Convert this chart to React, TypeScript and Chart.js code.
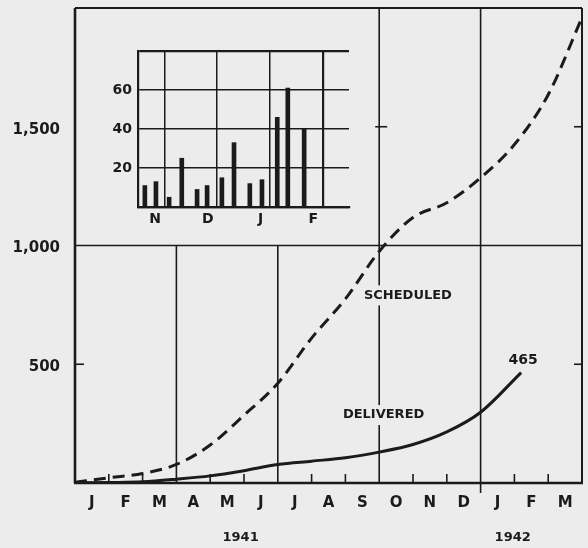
import React, { useEffect, useRef } from 'react';
import { Chart, registerables } from 'chart.js';

Chart.register(...registerables);

// ---------- data ----------
const monthLabels = ['J', 'F', 'M', 'A', 'M', 'J', 'J', 'A', 'S', 'O', 'N', 'D', 'J', 'F', 'M'];
const yearLabels = ['1941', '1942'];
const yearLabelMonth = [4.9, 12.95];
const yTickValues = [500, 1000, 1500];

// month position (0 = start of Jan 1941) and cumulative count
const scheduledMonth = [0, 1, 2, 3, 4, 5, 6, 7, 8, 9, 10, 11, 12, 13, 14, 15];
const scheduledValues = [3, 22, 40, 78, 160, 285, 420, 610, 775, 975, 1118, 1180, 1285, 1425, 1635, 1960];
const deliveredMonth = [0, 1, 2, 3, 4, 5, 6, 7, 8, 9, 10, 11, 12, 13.2];
const deliveredValues = [0, 2, 5, 16, 30, 52, 78, 92, 106, 130, 162, 215, 298, 465];

const seriesNames = ['SCHEDULED', 'DELIVERED'];

// inset: weekly deliveries, Nov 1941 - Feb 1942 (position in months from Nov 1)
const insetMonthLabels = ['N', 'D', 'J', 'F'];
const insetWeekPos = [0.13, 0.34, 0.59, 0.83, 1.12, 1.31, 1.59, 1.82, 2.12, 2.35, 2.64, 2.84, 3.15];
const insetWeekly = [11, 13, 5, 25, 9, 11, 15, 33, 12, 14, 46, 61, 40];
const insetYTicks = [0, 20, 40, 60, 80];

// ---------- style ----------
const BG = '#ececec';
const INK = '#1b1b1b';
const FONT = '"DejaVu Sans", Verdana, sans-serif';

function line(ctx: CanvasRenderingContext2D, x1: number, y1: number, x2: number, y2: number) {
  ctx.beginPath();
  ctx.moveTo(x1, y1);
  ctx.lineTo(x2, y2);
  ctx.stroke();
}

const noPad = (s: any) => {
  s.paddingTop = 0;
  s.paddingBottom = 0;
  s.paddingLeft = 0;
  s.paddingRight = 0;
};

const mainDecor = {
  id: 'mainDecor',
  beforeDatasetsDraw(chart: any) {
    const { ctx, chartArea: a } = chart;
    const xs = chart.scales.x;
    const ys = chart.scales.y;
    const px = (m: number) => xs.getPixelForValue(m);
    const py = (v: number) => ys.getPixelForValue(v);
    ctx.save();
    ctx.strokeStyle = INK;
    ctx.lineWidth = 1.6;
    // grid
    line(ctx, a.left, py(1000), a.right, py(1000));
    [3, 6].forEach((m) => line(ctx, px(m), py(1000), px(m), a.bottom));
    line(ctx, px(9), a.top, px(9), a.bottom);
    line(ctx, px(12), a.top, px(12), a.bottom + 10);
    // inner ticks on x axis
    for (let m = 1; m < 15; m++) {
      if ([3, 6, 9, 12].includes(m)) continue;
      line(ctx, px(m), a.bottom, px(m), a.bottom - 9);
    }
    // y ticks
    line(ctx, a.left, py(500), a.left + 9, py(500));
    line(ctx, a.right, py(500), a.right - 8, py(500));
    line(ctx, a.right, py(1500), a.right - 8, py(1500));
    line(ctx, px(9) - 4, py(1500), px(9) + 8, py(1500));

    // series labels with paper background (break the gridline)
    ctx.font = `bold 13px ${FONT}`;
    ctx.textAlign = 'center';
    ctx.textBaseline = 'middle';
    const labels = [
      { t: seriesNames[0], x: px(9.85), y: py(790) },
      { t: seriesNames[1], x: px(9.13), y: py(286) },
    ];
    labels.forEach((l) => {
      const w = ctx.measureText(l.t).width;
      ctx.fillStyle = BG;
      ctx.fillRect(l.x - w / 2 - 2, l.y - 10, w + 4, 20);
      ctx.fillStyle = INK;
      ctx.fillText(l.t, l.x, l.y);
    });

    // border
    ctx.lineWidth = 2;
    line(ctx, a.left, a.top, a.right, a.top);
    line(ctx, a.right, a.top, a.right, a.bottom);
    ctx.lineWidth = 2.6;
    line(ctx, a.left, a.top, a.left, a.bottom);
    line(ctx, a.left - 1, a.bottom, a.right + 1, a.bottom);
    ctx.restore();
  },
  afterDraw(chart: any) {
    const { ctx } = chart;
    const xs = chart.scales.x;
    const ys = chart.scales.y;
    ctx.save();
    ctx.fillStyle = INK;
    ctx.textAlign = 'center';
    ctx.textBaseline = 'middle';
    // end value label
    const li = deliveredValues.length - 1;
    ctx.font = `bold 14px ${FONT}`;
    ctx.fillText(
      String(deliveredValues[li]),
      xs.getPixelForValue(deliveredMonth[li]) + 2,
      ys.getPixelForValue(deliveredValues[li]) - 12
    );
    // years
    ctx.font = `bold 13px ${FONT}`;
    yearLabels.forEach((t, i) => {
      ctx.fillText(t, xs.getPixelForValue(yearLabelMonth[i]), 538);
    });
    ctx.restore();
  },
};

export default function App() {
  const mainRef = useRef<HTMLCanvasElement | null>(null);
  const insetRef = useRef<HTMLCanvasElement | null>(null);

  useEffect(() => {
    document.body.style.margin = '0';
    document.body.style.background = BG;
    if (!mainRef.current || !insetRef.current) return;

    const main = new Chart(mainRef.current, {
      type: 'line',
      data: {
        datasets: [
          {
            label: seriesNames[0],
            data: scheduledMonth.map((m, i) => ({ x: m, y: scheduledValues[i] })),
            borderColor: INK,
            borderWidth: 3,
            borderDash: [12, 7],
            pointRadius: 0,
            cubicInterpolationMode: 'monotone',
            fill: false,
          },
          {
            label: seriesNames[1],
            data: deliveredMonth.map((m, i) => ({ x: m, y: deliveredValues[i] })),
            borderColor: INK,
            borderWidth: 3,
            pointRadius: 0,
            cubicInterpolationMode: 'monotone',
            fill: false,
          },
        ],
      },
      options: {
        animation: false,
        responsive: false,
        maintainAspectRatio: false,
        devicePixelRatio: 1,
        layout: { padding: { left: 0, right: 6, top: 8, bottom: 0 } },
        plugins: { legend: { display: false }, tooltip: { enabled: false } },
        scales: {
          x: {
            type: 'linear',
            min: 0,
            max: 15,
            grid: { display: false, drawTicks: false },
            border: { display: false },
            afterBuildTicks: (s: any) => {
              s.ticks = monthLabels.map((_, i) => ({ value: i + 0.5 }));
            },
            ticks: {
              autoSkip: false,
              maxRotation: 0,
              padding: 11,
              color: INK,
              font: { family: FONT, size: 15, weight: 'bold' },
              callback: (v: any) => monthLabels[Math.floor(Number(v))],
            },
            afterFit: (s: any) => {
              s.height = 65;
              noPad(s);
            },
          },
          y: {
            type: 'linear',
            min: 0,
            max: 2000,
            grid: { display: false, drawTicks: false },
            border: { display: false },
            afterBuildTicks: (s: any) => {
              s.ticks = yTickValues.map((v) => ({ value: v }));
            },
            ticks: {
              padding: 15,
              labelOffset: 3,
              color: INK,
              font: { family: FONT, size: 15, weight: 'bold' },
              callback: (v: any) => Number(v).toLocaleString('en-US'),
            },
            afterFit: (s: any) => {
              s.width = 75;
              noPad(s);
            },
          },
        },
      },
      plugins: [mainDecor],
    } as any);

    const edge = (c: any, lo: number, hi: number) =>
      c.tick && (c.tick.value === lo || c.tick.value === hi) ? 2.2 : 1.5;

    const inset = new Chart(insetRef.current, {
      type: 'bar',
      data: {
        datasets: [
          {
            data: insetWeekPos.map((x, i) => ({ x, y: insetWeekly[i] })),
            backgroundColor: INK,
            borderWidth: 0,
            barThickness: 4,
          },
        ],
      },
      options: {
        animation: false,
        responsive: false,
        maintainAspectRatio: false,
        devicePixelRatio: 1,
        layout: { padding: { left: 0, right: 11, top: 11, bottom: 0 } },
        plugins: { legend: { display: false }, tooltip: { enabled: false } },
        scales: {
          x: {
            type: 'linear',
            min: 0,
            max: 4,
            offset: false,
            afterBuildTicks: (s: any) => {
              s.ticks = [0, 1, 2, 3, 4].map((v) => ({ value: v }));
            },
            grid: { color: INK, lineWidth: (c: any) => edge(c, 0, 4), drawTicks: false },
            border: { display: true, color: INK, width: 2.2 },
            ticks: {
              autoSkip: false,
              maxRotation: 0,
              labelOffset: 17,
              padding: 4,
              color: INK,
              font: { family: FONT, size: 14, weight: 'bold' },
              callback: (v: any) => insetMonthLabels[Number(v)] ?? '',
            },
            afterFit: (s: any) => {
              s.height = 23;
              noPad(s);
            },
          },
          y: {
            type: 'linear',
            min: 0,
            max: 80,
            afterBuildTicks: (s: any) => {
              s.ticks = insetYTicks.map((v) => ({ value: v }));
            },
            grid: { color: INK, lineWidth: (c: any) => edge(c, 0, 80), drawTicks: false },
            border: { display: true, color: INK, width: 2.2 },
            ticks: {
              padding: 6,
              color: INK,
              font: { family: FONT, size: 14, weight: 'bold' },
              callback: (v: any) => (Number(v) === 0 || Number(v) === 80 ? '' : String(v)),
            },
            afterFit: (s: any) => {
              s.width = 38;
              noPad(s);
            },
          },
        },
      },
    } as any);

    return () => {
      main.destroy();
      inset.destroy();
    };
  }, []);

  return (
    <div style={{ position: 'relative', width: 588, height: 548, background: BG, overflow: 'hidden' }}>
      <canvas ref={mainRef} width={588} height={548} style={{ position: 'absolute', left: 0, top: 0, width: 588, height: 548 }} />
      <canvas ref={insetRef} width={260} height={190} style={{ position: 'absolute', left: 100, top: 40, width: 260, height: 190 }} />
    </div>
  );
}
